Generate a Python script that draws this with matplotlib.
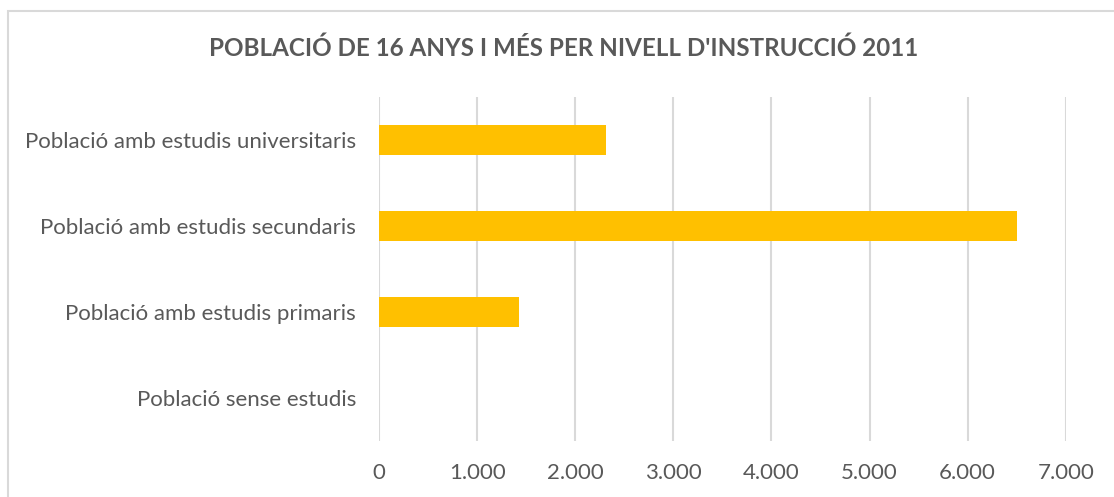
import matplotlib
matplotlib.use('Agg')
import matplotlib.pyplot as plt
from matplotlib.patches import Rectangle
from matplotlib.ticker import FuncFormatter

# dades
categories = ['Població sense estudis',
              'Població amb estudis primaris',
              'Població amb estudis secundaris',
              'Població amb estudis universitaris']
valors = [0, 1425, 6507, 2317]
titol = "POBLACIÓ DE 16 ANYS I MÉS PER NIVELL D'INSTRUCCIÓ 2011"

gris = '#595959'
plt.rcParams['font.family'] = ['Lato', 'DejaVu Sans']

fig = plt.figure(figsize=(11.14, 4.97), dpi=100)
ax = fig.add_axes([379 / 1114, 1 - 440.7 / 497,
                   (1065.7 - 379) / 1114, (440.7 - 97) / 497])

ax.barh(range(len(categories)), valors, height=0.35, color='#FFC000', zorder=3)

ax.set_xlim(0, 7000)
ax.set_ylim(-0.5, len(categories) - 0.5)
ax.set_xticks(range(0, 7001, 1000))
ax.xaxis.set_major_formatter(FuncFormatter(
    lambda v, p: '{:,.0f}'.format(v).replace(',', '.')))
ax.set_yticks(range(len(categories)))
ax.set_yticklabels(categories)
ax.grid(axis='x', color='#d9d9d9', linewidth=1.5, zorder=0)
for s in ax.spines.values():
    s.set_visible(False)
ax.tick_params(axis='both', length=0, labelsize=16, colors=gris)
ax.tick_params(axis='y', pad=16.5)
ax.tick_params(axis='x', pad=16)

fig.text(0.506, 1 - 48 / 497, titol, ha='center', va='center',
         fontsize=17.4, fontweight='bold', color=gris)

# marc del gràfic
fig.patches.append(Rectangle((7.5 / 1114, -0.1), 1.2, 1 - 10.5 / 497 + 0.1,
                             transform=fig.transFigure, fill=False,
                             edgecolor='#d9d9d9', linewidth=1.5))

fig.savefig('out.png', dpi=100)
